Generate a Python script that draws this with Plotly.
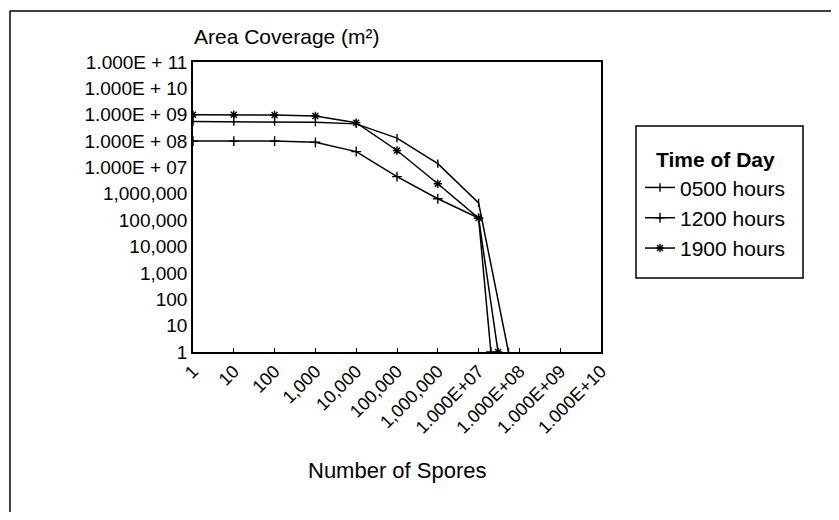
import plotly.graph_objects as go

# Area coverage vs. number of spores released, by time of day (log-log)
SPORES = [1, 10, 100, 1000, 1e4, 1e5, 1e6, 1e7]
CUTOFF = {"0500 hours": 5.4e7, "1200 hours": 2.0e7, "1900 hours": 3.0e7}

AREA_0500 = [5.5e8, 5.5e8, 5.5e8, 5.2e8, 4.5e8, 1.3e8, 1.4e7, 4.5e5, 1]
AREA_1200 = [1.0e8, 1.0e8, 1.0e8, 9.0e7, 4.0e7, 4.5e6, 6.5e5, 1.2e5, 1]
AREA_1900 = [1.0e9, 1.0e9, 9.8e8, 9.0e8, 5.0e8, 4.4e7, 2.4e6, 1.2e5, 1]

Y_TICKS = ["1", "10", "100", "1,000", "10,000", "100,000", "1,000,000",
           "1.000E + 07", "1.000E + 08", "1.000E + 09", "1.000E + 10", "1.000E + 11"]
X_TICKS = ["1", "10", "100", "1,000", "10,000", "100,000", "1,000,000",
           "1.000E+07", "1.000E+08", "1.000E+09", "1.000E+10"]

FONT = "Arial, Liberation Sans, sans-serif"

# target pixel positions on the 839 x 520 page; the page body has an 8px margin
OFF = 8
W, H = 839 - 2 * OFF, 520 - 2 * OFF
L, R, T, B = 193 - OFF, 601 - OFF, 62 - OFF, 352 - OFF


def px(x):
    return (x - OFF - L) / (R - L)


def py(y):
    return (B - (y - OFF)) / (B - T)


series = [
    ("0500 hours", AREA_0500, "line-ns-open", 6),
    ("1200 hours", AREA_1200, "cross-thin-open", 7),
    ("1900 hours", AREA_1900, "asterisk-open", 7),
]

fig = go.Figure()
for name, area, sym, size in series:
    fig.add_trace(go.Scatter(
        x=SPORES + [CUTOFF[name]], y=area, name=name, mode="lines+markers",
        line=dict(color="black", width=1.5),
        marker=dict(symbol=sym, size=size, color="black",
                    line=dict(color="black", width=1.4)),
    ))

fig.update_xaxes(
    type="log", range=[0, 10], tickvals=[10 ** i for i in range(11)],
    ticktext=X_TICKS, tickangle=-45, showgrid=False, zeroline=False,
    showline=True, linecolor="black", linewidth=1.5, mirror=True,
    ticks="inside", ticklen=4, tickcolor="black",
    tickfont=dict(size=18, color="black", family=FONT),
)
fig.update_yaxes(
    type="log", range=[0, 11], tickvals=[10 ** i for i in range(12)],
    ticktext=Y_TICKS, showgrid=False, zeroline=False,
    showline=True, linecolor="black", linewidth=1.5, mirror=True,
    ticks="", tickfont=dict(size=19, color="black", family=FONT),
)

fig.update_layout(
    width=W, height=H,
    margin=dict(l=L, r=W - R, t=T, b=H - B),
    paper_bgcolor="white", plot_bgcolor="white",
    font=dict(family=FONT, color="black", size=18),
    legend=dict(
        title=dict(text="<b>Time of Day</b>", side="top center",
                   font=dict(size=21)),
        x=px(640), y=py(140), xanchor="left", yanchor="top",
        borderwidth=0, bgcolor="rgba(0,0,0,0)",
        font=dict(size=21), itemwidth=30, tracegroupgap=0,
    ),
    annotations=[
        dict(text="Area Coverage (m²)", x=px(192), y=py(36), xref="paper",
             yref="paper", xanchor="left", yanchor="middle", showarrow=False,
             font=dict(size=21)),
        dict(text="Number of Spores", x=px(397), y=py(470), xref="paper",
             yref="paper", xanchor="center", yanchor="middle", showarrow=False,
             font=dict(size=22)),
    ],
    shapes=[
        # outer page frame (top and left edges only)
        dict(type="line", xref="paper", yref="paper", x0=px(10), y0=py(11),
             x1=px(839), y1=py(11), line=dict(color="black", width=1.5)),
        dict(type="line", xref="paper", yref="paper", x0=px(10), y0=py(11),
             x1=px(10), y1=py(520), line=dict(color="black", width=1.5)),
        # legend frame
        dict(type="rect", xref="paper", yref="paper", x0=px(636), y0=py(126),
             x1=px(803), y1=py(278), line=dict(color="black", width=1.5)),
    ],
)

fig.write_html("out.html")
